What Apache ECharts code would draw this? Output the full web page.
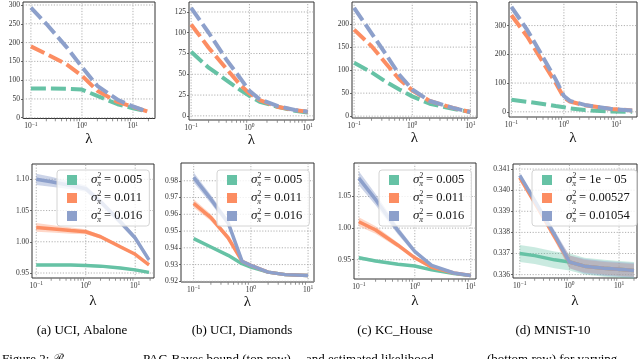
<!DOCTYPE html>
<html>
<head>
<meta charset="utf-8">
<title>PAC-Bayes bound and NLL</title>
<script src="https://cdn.jsdelivr.net/npm/echarts@6/dist/echarts.min.js"></script>
<style>html,body{margin:0;background:#fff}#main{width:640px;height:359px}</style>
</head>
<body>
<div id="main"></div>
<script>
// ---- top row: PAC-Bayes bound vs lambda ----
var lamBoundA = [0.1, 0.2, 0.5, 1, 2, 5, 10, 19];
var boundA005 = [78, 78, 77, 75, 58, 36, 25, 17];
var boundA011 = [190, 170, 142, 112, 72, 42, 29, 17];
var boundA016 = [293, 250, 188, 135, 85, 48, 30, 17];

var lamBoundB = [0.1, 0.2, 0.4, 0.7, 1, 1.5, 3, 6, 10];
var boundB005 = [77, 58, 43, 31, 24, 17, 11, 6, 4];
var boundB011 = [110, 82, 57, 37, 27, 19, 11, 7, 5];
var boundB016 = [130, 100, 68, 45, 30, 20, 12, 7, 5];

var lamBoundC = [0.1, 0.2, 0.35, 0.6, 1, 2, 5, 10];
var boundC005 = [116, 95, 75, 58, 43, 27, 16, 9];
var boundC011 = [188, 152, 115, 80, 56, 33, 18, 9];
var boundC016 = [235, 180, 135, 90, 58, 33, 18, 9];

var lamBoundD = [0.1, 0.2, 0.4, 0.7, 1, 1.3, 2.5, 8, 20];
var boundD1 = [42, 35, 27, 20, 16, 12, 6, 1, 0];
var boundD2 = [336, 262, 172, 100, 50, 36, 23, 10, 5];
var boundD3 = [365, 285, 190, 112, 55, 38, 24, 10, 5];

// ---- bottom row: negative log-likelihood (mean and spread) ----
var lamNllA = [0.1, 0.2, 0.5, 1, 2, 5, 10, 19];
var nllA005 = [0.963, 0.963, 0.963, 0.962, 0.961, 0.958, 0.955, 0.951];
var errA005 = [0.002, 0.002, 0.002, 0.002, 0.002, 0.002, 0.002, 0.002];
var nllA011 = [1.023, 1.021, 1.018, 1.016, 1.008, 0.992, 0.980, 0.963];
var errA011 = [0.007, 0.006, 0.005, 0.004, 0.003, 0.003, 0.002, 0.002];
var nllA016 = [1.100, 1.096, 1.090, 1.085, 1.064, 1.032, 1.006, 0.971];
var errA016 = [0.009, 0.008, 0.006, 0.005, 0.005, 0.005, 0.004, 0.004];

var lamNllB = [0.1, 0.2, 0.4, 0.7, 1, 2, 4, 10];
var nllB005 = [0.9455, 0.9405, 0.9355, 0.9305, 0.9285, 0.9255, 0.924, 0.9235];
var errB005 = [0.0005, 0.0005, 0.0005, 0.0005, 0.0004, 0.0004, 0.0004, 0.0004];
var nllB011 = [0.9665, 0.958, 0.946, 0.932, 0.9295, 0.9255, 0.924, 0.9235];
var errB011 = [0.0025, 0.002, 0.0015, 0.001, 0.0005, 0.0005, 0.0005, 0.0005];
var nllB016 = [0.982, 0.969, 0.955, 0.932, 0.9295, 0.9255, 0.924, 0.9235];
var errB016 = [0.003, 0.0025, 0.002, 0.001, 0.0005, 0.0005, 0.0005, 0.0005];

var lamNllC = [0.1, 0.2, 0.5, 1, 2, 5, 10];
var nllC005 = [0.953, 0.948, 0.943, 0.940, 0.934, 0.928, 0.925];
var errC005 = [0.003, 0.0025, 0.002, 0.0015, 0.001, 0.001, 0.001];
var nllC011 = [1.010, 0.997, 0.973, 0.953, 0.938, 0.929, 0.925];
var errC011 = [0.007, 0.006, 0.004, 0.003, 0.002, 0.001, 0.001];
var nllC016 = [1.079, 1.045, 0.996, 0.963, 0.941, 0.929, 0.925];
var errC016 = [0.011, 0.009, 0.006, 0.004, 0.002, 0.001, 0.001];

var lamNllD = [0.1, 0.2, 0.5, 1, 2, 5, 10, 20];
var nllD1 = [0.3370, 0.3369, 0.3367, 0.3366, 0.3364, 0.3363, 0.33625, 0.3362];
var errD1 = [0.0004, 0.0004, 0.0004, 0.0004, 0.0004, 0.0004, 0.0004, 0.0004];
var nllD2 = [0.3406, 0.3394, 0.3378, 0.3366, 0.3364, 0.3363, 0.33625, 0.3362];
var errD2 = [0.0001, 0.0001, 0.0002, 0.0003, 0.0003, 0.0003, 0.0003, 0.0003];
var nllD3 = [0.3407, 0.3395, 0.3379, 0.3366, 0.3364, 0.3363, 0.33625, 0.3362];
var errD3 = [0.0001, 0.0001, 0.0002, 0.0003, 0.00035, 0.00035, 0.00035, 0.00035];

// ---- ticks and labels ----
var boundTicksA = [0, 50, 100, 150, 200, 250, 300];
var boundTicksB = [0, 25, 50, 75, 100, 125];
var boundTicksC = [0, 50, 100, 150, 200];
var boundTicksD = [0, 100, 200, 300];
var nllTicksA = [0.95, 1.00, 1.05, 1.10];
var nllTicksB = [0.92, 0.93, 0.94, 0.95, 0.96, 0.97, 0.98];
var nllTicksC = [0.95, 1.00, 1.05];
var nllTicksD = [0.336, 0.337, 0.338, 0.339, 0.340, 0.341];
var lamTicks = [0.1, 1, 10];
var lamMinorTicks = [0.2, 0.3, 0.4, 0.5, 0.6, 0.7, 0.8, 0.9, 2, 3, 4, 5, 6, 7, 8, 9, 20];

var namesABC = ['σ2π = 0.005', 'σ2π = 0.011', 'σ2π = 0.016'];
var namesD = ['σ2π = 1e − 05', 'σ2π = 0.00527', 'σ2π = 0.01054'];
var captions = ['(a) UCI, Abalone', '(b) UCI, Diamonds', '(c) KC_House', '(d) MNIST-10'];

var colors = ['#66c2a5', '#fc8d62', '#8da0cb'];
var bandColors = ['rgba(102,194,165,0.35)', 'rgba(252,141,98,0.35)', 'rgba(141,160,203,0.45)'];
var serif = 'Liberation Serif';

var panels = [
    {lam: lamBoundA, lines: [boundA005, boundA011, boundA016], ticks: boundTicksA, dec: 0,
     box: [23, 2, 132, 116.5], xr: [0.07, 27], yr: [-2, 308], gap: 13},
    {lam: lamBoundB, lines: [boundB005, boundB011, boundB016], ticks: boundTicksB, dec: 0,
     box: [189, 2, 125, 118], xr: [0.092, 12.8], yr: [-5, 137], gap: 12},
    {lam: lamBoundC, lines: [boundC005, boundC011, boundC016], ticks: boundTicksC, dec: 0,
     box: [352, 2, 125, 116], xr: [0.092, 13], yr: [-4, 248], gap: 13},
    {lam: lamBoundD, lines: [boundD1, boundD2, boundD3], ticks: boundTicksD, dec: 0,
     box: [509, 2, 128, 115], xr: [0.09, 24.7], yr: [-18, 382], gap: 14},
    {lam: lamNllA, mean: [nllA005, nllA011, nllA016], err: [errA005, errA011, errA016], ticks: nllTicksA, dec: 2,
     box: [32, 164, 122, 114], xr: [0.082, 24], yr: [0.942, 1.1245], gap: 16, names: namesABC, leg: [57, 170]},
    {lam: lamNllB, mean: [nllB005, nllB011, nllB016], err: [errB005, errB011, errB016], ticks: nllTicksB, dec: 2,
     box: [181, 163, 133, 119], xr: [0.06, 12.7], yr: [0.9196, 0.9906], gap: 12, names: namesABC, leg: [217, 170]},
    {lam: lamNllC, mean: [nllC005, nllC011, nllC016], err: [errC005, errC011, errC016], ticks: nllTicksC, dec: 2,
     box: [354, 163, 122, 116], xr: [0.082, 12.4], yr: [0.9195, 1.103], gap: 15, names: namesABC, leg: [379, 170]},
    {lam: lamNllD, mean: [nllD1, nllD2, nllD3], err: [errD1, errD2, errD3], ticks: nllTicksD, dec: 3,
     box: [513, 164, 125, 114], xr: [0.073, 23], yr: [0.33584, 0.34124], gap: 16, names: namesD, leg: [532, 170]}
];

function pairs(xs, ys) {
    return xs.map(function (x, j) { return [x, ys[j]]; });
}

function powLabel(v) {
    var l = Math.log(v) / Math.LN10;
    var k = Math.round(l);
    if (Math.abs(l - k) > 1e-6) return '';
    return '{b|10}{p|' + (k < 0 ? '−' + (-k) : k) + '}';
}

function legendText(name) {
    return '{s|σ}{sup|2}{sub|π}{t| = ' + name.split(' = ')[1] + '}';
}

// dotted grid lines through the tick values of one panel, drawn with the axis scales
function gridRenderer(p) {
    return function (params, api) {
        if (params.dataIndex !== 0) return null;
        var lines = [];
        p.ticks.forEach(function (v) {
            var a = api.coord([p.xr[0], v]), b = api.coord([p.xr[1], v]);
            lines.push({type: 'line', shape: {x1: a[0], y1: a[1], x2: b[0], y2: b[1]},
                style: {stroke: '#a8a8a8', lineWidth: 0.9, lineDash: [1.2, 1.6]}});
        });
        lamTicks.forEach(function (v) {
            var a = api.coord([v, p.yr[0]]), b = api.coord([v, p.yr[1]]);
            lines.push({type: 'line', shape: {x1: a[0], y1: a[1], x2: b[0], y2: b[1]},
                style: {stroke: '#a8a8a8', lineWidth: 0.9, lineDash: [1.2, 1.6]}});
        });
        return {type: 'group', children: lines};
    };
}

// shaded spread band: mean - err .. mean + err
function bandRenderer(lam, mean, err, color) {
    return function (params, api) {
        var pts = [], j;
        for (j = 0; j < lam.length; j++) pts.push(api.coord([lam[j], mean[j] - err[j]]));
        for (j = lam.length - 1; j >= 0; j--) pts.push(api.coord([lam[j], mean[j] + err[j]]));
        return {type: 'polygon', shape: {points: pts}, style: {fill: color}};
    };
}

var grids = [], xAxes = [], yAxes = [], series = [], legends = [];

panels.forEach(function (p, i) {
    grids.push({left: p.box[0], top: p.box[1], width: p.box[2], height: p.box[3],
        show: true, borderColor: '#333', borderWidth: 1, backgroundColor: 'transparent'});
    xAxes.push({
        type: 'log', logBase: 10, gridIndex: i, min: p.xr[0], max: p.xr[1],
        axisLine: {show: false},
        axisTick: {show: false},
        splitLine: {show: false},
        axisLabel: {margin: 3, formatter: powLabel, rich: {
            b: {fontFamily: serif, fontSize: 7.5, color: '#333', lineHeight: 10},
            p: {fontFamily: serif, fontSize: 5.5, color: '#333', lineHeight: 6, verticalAlign: 'top'}
        }},
        name: 'λ', nameLocation: 'middle', nameGap: p.gap,
        nameTextStyle: {fontFamily: serif, fontSize: 15, color: '#111'}
    });
    yAxes.push({
        type: 'value', gridIndex: i, min: p.yr[0], max: p.yr[1],
        axisLine: {show: false},
        axisTick: {show: true, customValues: p.ticks, length: 2, lineStyle: {color: '#444', width: 0.8}},
        axisLabel: {customValues: p.ticks, margin: 3, fontFamily: serif, fontSize: 7.5, color: '#333',
            formatter: function (v) { return (+v).toFixed(p.dec); }},
        splitLine: {show: false}
    });

    series.push({
        type: 'custom', xAxisIndex: i, yAxisIndex: i, silent: true, z: 2,
        data: [[lamTicks[1], p.ticks[0]]],
        renderItem: gridRenderer(p)
    });
    // minor log ticks under the x axis
    series.push({
        type: 'scatter', xAxisIndex: i, yAxisIndex: i, silent: true, clip: false, z: 4,
        symbol: 'rect', symbolSize: [0.8, 2.2], symbolOffset: [0, 1.6], itemStyle: {color: '#555'},
        data: lamMinorTicks.filter(function (v) { return v > p.xr[0] && v < p.xr[1]; })
            .map(function (v) { return [v, p.yr[0]]; })
    });

    if (p.lines) {
        p.lines.forEach(function (vals, k) {
            series.push({
                type: 'line', xAxisIndex: i, yAxisIndex: i, symbol: 'none', z: 3,
                data: pairs(p.lam, vals),
                lineStyle: {color: colors[k], width: 4, type: [15, 5], cap: 'butt'},
                itemStyle: {color: colors[k]}
            });
        });
    } else {
        p.mean.forEach(function (vals, k) {
            series.push({
                type: 'custom', xAxisIndex: i, yAxisIndex: i, silent: true, z: 2,
                data: [[p.lam[0], vals[0]]],
                renderItem: bandRenderer(p.lam, vals, p.err[k], bandColors[k])
            });
            series.push({type: 'line', name: p.names[k], xAxisIndex: i, yAxisIndex: i, symbol: 'none', z: 3,
                data: pairs(p.lam, vals),
                lineStyle: {color: colors[k], width: 3.5}, itemStyle: {color: colors[k]}});
        });
        legends.push({
            left: p.leg[0], top: p.leg[1], orient: 'vertical', data: p.names, selectedMode: false,
            icon: 'rect', itemWidth: 10, itemHeight: 10, itemGap: 2, padding: [2, 7, 2, 10],
            backgroundColor: 'rgba(255,255,255,0.8)', borderColor: '#d4d4d4', borderWidth: 1, borderRadius: 3,
            formatter: legendText,
            textStyle: {rich: {
                s: {fontFamily: serif, fontStyle: 'italic', fontSize: 13, lineHeight: 16, padding: [0, 0, 0, 9], color: '#111'},
                sup: {fontFamily: serif, fontSize: 7.5, lineHeight: 8, verticalAlign: 'top', color: '#111'},
                sub: {fontFamily: serif, fontStyle: 'italic', fontSize: 7.5, lineHeight: 8, verticalAlign: 'bottom',
                      padding: [0, 0, 0, -4], color: '#111'},
                t: {fontFamily: serif, fontSize: 12.5, lineHeight: 16, color: '#111'}
            }}
        });
    }
});

var capX = [82, 242, 395, 553];
var graphics = captions.map(function (t, i) {
    return {type: 'text', x: capX[i], y: 331,
        style: {text: t, align: 'center', verticalAlign: 'middle', fontFamily: serif, fontSize: 13, fill: '#000'}};
});
var figLine = [
    [2, 'Figure 2: ℬ'], [66, 'PAC'], [143, 'PAC-Bayes bound (top row)'],
    [306, 'and estimated likelihood'], [487, '(bottom row) for varying']
];
figLine.forEach(function (w, j) {
    graphics.push({type: 'text', x: w[0], y: j === 1 ? 359 : 353,
        style: {text: w[1], verticalAlign: 'top', fontFamily: serif, fontSize: j === 1 ? 9 : 13, fill: '#000'}});
});

var myChart = echarts.init(document.getElementById('main'));
myChart.setOption({
    animation: false,
    backgroundColor: '#fff',
    grid: grids,
    xAxis: xAxes,
    yAxis: yAxes,
    legend: legends,
    series: series,
    graphic: graphics
});
</script>
</body>
</html>
